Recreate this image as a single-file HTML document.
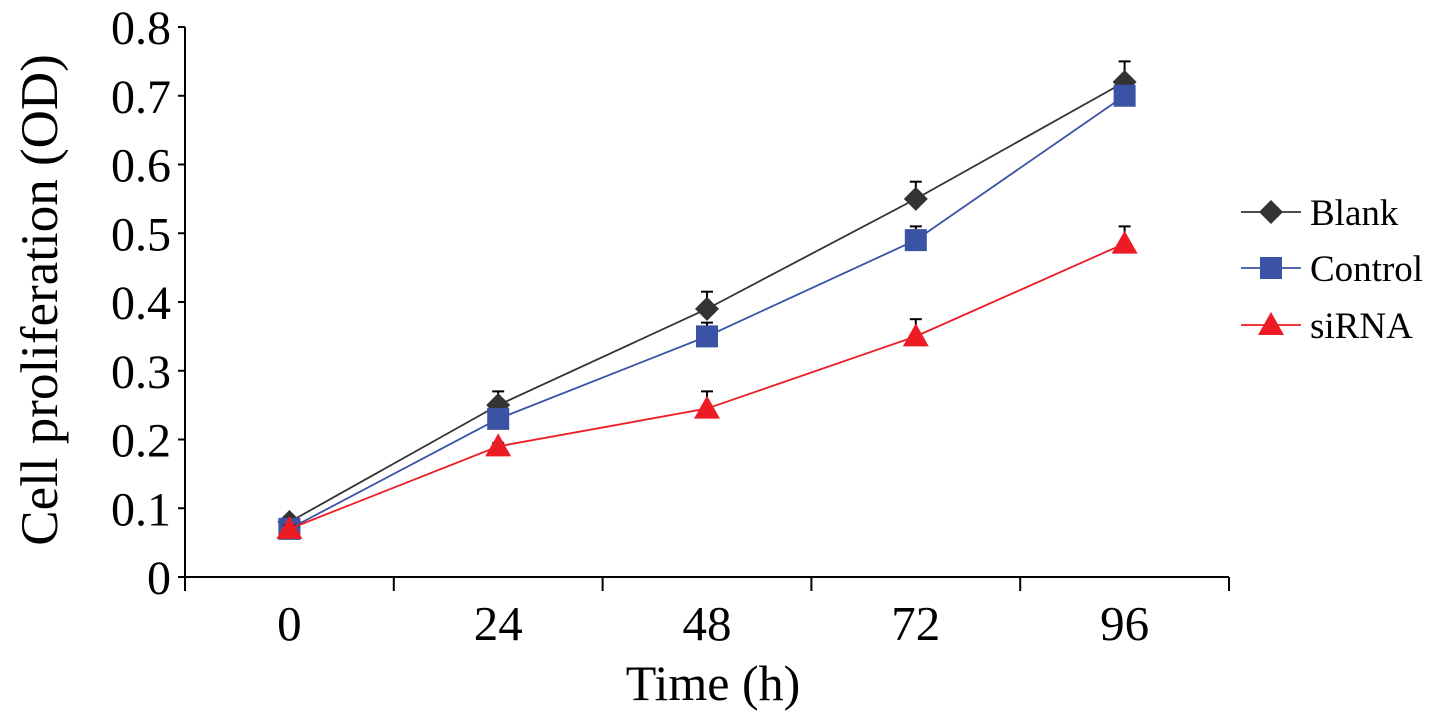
<!DOCTYPE html>
<html><head><meta charset="utf-8"><style>
html,body{margin:0;padding:0;background:#fff;}
svg{display:block;font-family:"Liberation Serif",serif;}
</style></head><body>
<svg id="chart" width="1441" height="723" viewBox="0 0 1441 723">
<g id="axes"></g><g id="series"></g><g id="legend"></g>
</svg>
<script>
const categories = ["0","24","48","72","96"];
const blank = [0.08,0.25,0.39,0.55,0.72];
const blankErr = [0.005,0.02,0.025,0.025,0.03];
const control = [0.07,0.23,0.35,0.49,0.70];
const controlErr = [0.005,0.01,0.02,0.02,0.005];
const sirna = [0.07,0.19,0.245,0.35,0.485];
const sirnaErr = [0.005,0.005,0.025,0.025,0.025];
const yTicks = ["0","0.1","0.2","0.3","0.4","0.5","0.6","0.7","0.8"];

const NS="http://www.w3.org/2000/svg";
const x0=185,x1=1229,y0=577,yTop=27;
const bw=(x1-x0)/categories.length;
function xPos(i){return x0+bw*(i+0.5);}
function yPos(v){return y0-(y0-yTop)*v/0.8;}
function mk(tag,attrs,parent){const e=document.createElementNS(NS,tag);for(const k in attrs)e.setAttribute(k,attrs[k]);parent.appendChild(e);return e;}
const axes=document.getElementById('axes'),ser=document.getElementById('series'),leg=document.getElementById('legend');

let yl=mk('line',{x1:x0,y1:yTop,x2:x0,y2:y0,stroke:'#000','stroke-width':2},axes);


let xl=mk('line',{x1:x0,y1:y0,x2:x1,y2:y0,stroke:'#000','stroke-width':2},axes);


yTicks.forEach((t,i)=>{
  const v=parseFloat(t),y=yPos(v);
  mk('line',{x1:x0-7,y1:y,x2:x0,y2:y,stroke:'#000','stroke-width':2},axes);
  const tx=mk('text',{x:171,y:y+17,'text-anchor':'end','font-size':48},axes);
  tx.textContent=t;
  
  
});
for(let i=0;i<=categories.length;i++){
  const x=x0+bw*i;
  mk('line',{x1:x,y1:y0,x2:x,y2:y0+14,stroke:'#000','stroke-width':2},axes);
}
categories.forEach((c,i)=>{
  const tx=mk('text',{x:xPos(i),y:640,'text-anchor':'middle','font-size':49},axes);
  tx.textContent=c;
  
  
});
let xt=mk('text',{x:713,y:700,'text-anchor':'middle','font-size':50},axes);
xt.textContent='Time (h)';


let yt=mk('text',{x:0,y:0,'text-anchor':'middle','font-size':53,transform:'translate(57,300) rotate(-90)'},axes);
yt.textContent='Cell proliferation (OD)';



function marker(type,x,y,color,parent){
  if(type==='diamond') return mk('polygon',{points:`${x},${y-12} ${x+12},${y} ${x},${y+12} ${x-12},${y}`,fill:color},parent);
  if(type==='square') return mk('rect',{x:x-11,y:y-11,width:22,height:22,fill:color},parent);
  return mk('polygon',{points:`${x},${y-13} ${x+13},${y+10} ${x-13},${y+10}`,fill:color},parent);
}
const defs=[
 {name:'Blank',vals:blank,err:blankErr,color:'#333333',line:'#333',type:'diamond',ly:212},
 {name:'Control',vals:control,err:controlErr,color:'#3a53a4',line:'#3a53a4',type:'square',ly:268},
 {name:'siRNA',vals:sirna,err:sirnaErr,color:'#ed1c24',line:'#ed1c24',type:'triangle',ly:325}
];
defs.forEach(d=>{
  const g=mk('g',{},ser);
  
  
  mk('polyline',{points:d.vals.map((v,i)=>xPos(i)+','+yPos(v)).join(' '),fill:'none',stroke:d.line,'stroke-width':1.8},g);
  d.vals.forEach((v,i)=>{
    const x=xPos(i),y=yPos(v),ye=yPos(v+d.err[i]);
    mk('line',{x1:x,y1:y,x2:x,y2:ye,stroke:'#000','stroke-width':2},g);
    mk('line',{x1:x-6,y1:ye,x2:x+6,y2:ye,stroke:'#000','stroke-width':2},g);
    const m=marker(d.type,x,y,d.color,g);
    
    
  });
  const lg=mk('g',{},leg);
  
  
  mk('line',{x1:1241,y1:d.ly,x2:1301,y2:d.ly,stroke:d.line,'stroke-width':1.8},lg);
  marker(d.type,1271,d.ly,d.color,lg);
  const t=mk('text',{x:1310,y:d.ly+13,'font-size':37},lg);
  t.textContent=d.name;
});
</script>
</body></html>
